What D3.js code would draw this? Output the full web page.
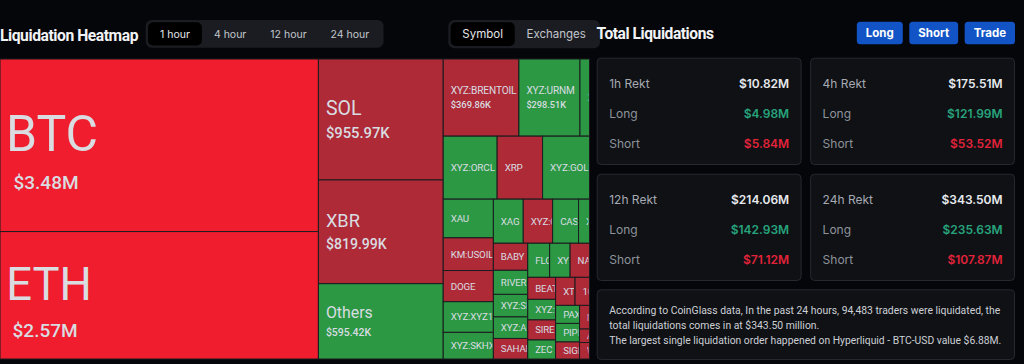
<!DOCTYPE html>
<html>
<head>
<meta charset="utf-8">
<script src="https://cdn.jsdelivr.net/npm/d3@7"></script>
<style>
html, body { margin: 0; padding: 0; background: #05060a; overflow: hidden; }
svg { display: block; }
</style>
</head>
<body>
<div id="chart"></div>
<script>
// 热力图数据 (1 hour)
const symbols = ["BTC", "ETH", "SOL", "XBR", "Others",
    "XYZ:BRENTOIL", "XYZ:URNM", "XYZ:PLTR", "XYZ:ORCL", "XRP", "XYZ:GOLD",
    "XAU", "KM:USOIL", "DOGE", "XYZ:XYZ100", "XYZ:SKHX",
    "XAG", "XYZ:CRCL", "CASH", "XYZ:TSLA",
    "BABY", "RIVER", "XYZ:SILVER", "XYZ:AMD", "SAHARA",
    "FLOKI", "XYZ:MSTR", "NAVX",
    "BEAT", "XYZ:HOOD", "SIREN", "ZEC",
    "XTZ", "1000PEPE", "PAXG", "PIPPIN", "SIGN", "MON", "ASTER", "WLFI"];
const values = [3480000, 2570000, 955970, 819990, 595420,
    369860, 298510, 46500, 215100, 181300, 187200,
    122900, 103800, 99000, 97400, 84600,
    83500, 82100, 72300, 30600,
    58900, 52400, 49100, 46900, 44700,
    47300, 44100, 41900,
    38900, 36300, 35400, 33600,
    34500, 25700, 27300, 28100, 25800, 14900, 8500, 10400];
const sides = ["short", "short", "short", "short", "long",
    "short", "long", "long", "long", "short", "long",
    "long", "short", "short", "long", "long",
    "long", "short", "long", "long",
    "short", "long", "long", "long", "short",
    "long", "long", "short",
    "short", "long", "short", "long",
    "short", "short", "long", "long", "short", "short", "short", "short"];

// 块的嵌套 (slice / dice 按深度交替)
const blocks = [
    ["BTC", "ETH"],
    ["SOL", "XBR", "Others"],
    [
        ["XYZ:BRENTOIL", "XYZ:URNM", "XYZ:PLTR"],
        ["XYZ:ORCL", "XRP", "XYZ:GOLD"],
        [
            ["XAU", "KM:USOIL", "DOGE", "XYZ:XYZ100", "XYZ:SKHX"],
            [
                ["XAG", "XYZ:CRCL", "CASH", "XYZ:TSLA"],
                [
                    ["BABY", "RIVER", "XYZ:SILVER", "XYZ:AMD", "SAHARA"],
                    [
                        ["FLOKI", "XYZ:MSTR", "NAVX"],
                        [
                            ["BEAT", "XYZ:HOOD", "SIREN", "ZEC"],
                            [
                                ["XTZ", "1000PEPE"],
                                [["PAXG", "PIPPIN", "SIGN"], ["MON", "ASTER", "WLFI"]]
                            ]
                        ]
                    ]
                ]
            ]
        ]
    ]
];

// 顶部控件
const timeTabs = ["1 hour", "4 hour", "12 hour", "24 hour"];
const viewTabs = ["Symbol", "Exchanges"];
const actions = ["Long", "Short", "Trade"];

// 总爆仓 (百万美元)
const periods = ["1h Rekt", "4h Rekt", "12h Rekt", "24h Rekt"];
const totals = [10.82, 175.51, 214.06, 343.50];
const longs = [4.98, 121.99, 142.93, 235.63];
const shorts = [5.84, 53.52, 71.12, 107.87];
const summary = [
    "According to CoinGlass data, In the past 24 hours, 94,483 traders were liquidated, the",
    "total liquidations comes in at $343.50 million.",
    "The largest single liquidation order happened on Hyperliquid - BTC-USD value $6.88M."
];

const W = 1024, H = 364;
const UI = "Inter, 'Noto Sans', sans-serif";
const RB = "Roboto, 'DejaVu Sans', sans-serif";

const svg = d3.select("#chart").append("svg")
    .attr("width", W)
    .attr("height", H);

svg.append("rect").attr("width", W).attr("height", H).attr("fill", "#05060a");

// 文字过宽时压缩
function fit(t, maxW) {
    if (t.node().getComputedTextLength() > maxW) {
        t.attr("textLength", maxW).attr("lengthAdjust", "spacingAndGlyphs");
    }
    return t;
}

// ---------- 热力图 ----------
function toNode(item) {
    if (typeof item === "string") {
        const i = symbols.indexOf(item);
        return { name: item, value: values[i], side: sides[i] };
    }
    return { children: item.map(toNode) };
}

const root = d3.hierarchy(toNode(blocks)).sum(d => d.children ? 0 : d.value);
d3.treemap().size([589.5, 300]).tile(d3.treemapSliceDice)(root);

const color = d => d.data.side === "long" ? "#2c9844" : (d.value > 2000000 ? "#ef1d2e" : "#ae2a37");
const nameSize = d3.scaleLinear()
    .domain([0, 250000, 400000, 600000, 1000000, 2500000, 3500000])
    .range([9.6, 10, 10.2, 16, 20, 45, 50]).clamp(true);
const valueSize = d3.scaleLinear()
    .domain([0, 400000, 600000, 800000, 1000000, 2500000])
    .range([8.5, 9.4, 10.5, 14, 15, 19]).clamp(true);
const fmt = v => v >= 1e6 ? "$" + (v / 1e6).toFixed(2) + "M" : "$" + (v / 1e3).toFixed(2) + "K";

const map = svg.append("g").attr("transform", "translate(0,59)");

const cells = map.selectAll(".cell")
    .data(root.leaves())
    .join("g")
    .attr("class", "cell")
    .attr("transform", d => `translate(${d.x0},${d.y0})`);

cells.append("rect")
    .attr("width", d => d.x1 - d.x0)
    .attr("height", d => d.y1 - d.y0)
    .attr("fill", color)
    .attr("stroke", "#1b1c1f")
    .attr("stroke-width", 1);

cells.append("clipPath")
    .attr("id", (d, i) => "clip" + i)
    .append("rect")
    .attr("width", d => Math.max(0, d.x1 - d.x0 - 1))
    .attr("height", d => d.y1 - d.y0);

cells.each(function(d, i) {
    const g = d3.select(this).append("g").attr("clip-path", `url(#clip${i})`);
    const w = d.x1 - d.x0, h = d.y1 - d.y0;
    const nf = nameSize(d.value), vf = valueSize(d.value);
    const showVal = h >= 70 && w >= 55;
    const capN = nf * 0.71, capV = vf * 0.71;
    const gap = showVal ? 0.35 * nf + 0.4 * vf : 0;
    const total = capN + (showVal ? gap + capV : 0);
    const top = h / 2 - total / 2 + (nf > 40 ? 7 : 0);
    const nx = 7.5 - Math.max(0, nf - 20) * 0.05;

    const t = g.append("text")
        .attr("x", nx)
        .attr("y", top + capN)
        .attr("fill", "#d9dce1")
        .attr("font-family", RB)
        .attr("font-size", nf)
        .attr("letter-spacing", nf < 12 ? -0.15 : 0)
        .text(d.data.name);

    // 去掉完全落在格子外的字符 (其余由 clipPath 裁掉)
    let s = d.data.name;
    while (s.length > 1 && nx + t.node().getSubStringLength(0, s.length - 1) >= w - 1) {
        s = s.slice(0, -1);
        t.text(s);
    }

    if (showVal) {
        g.append("text")
            .attr("x", 7.5 + Math.max(0, nf - 20) * 0.2)
            .attr("y", top + capN + gap + capV)
            .attr("fill", "#d9dce1")
            .attr("font-family", RB)
            .attr("font-size", vf)
            .attr("font-weight", 500)
            .text(fmt(d.value));
    }
});

// ---------- 标题与切换 ----------
fit(svg.append("text")
    .attr("x", 0)
    .attr("y", 40.5)
    .attr("fill", "#f2f3f5")
    .attr("font-family", RB)
    .attr("font-size", 16)
    .attr("font-weight", 700)
    .attr("letter-spacing", -0.45)
    .text("Liquidation Heatmap"), 138);

function tabGroup(labels, x0, y0, h, fontSize, pad) {
    const g = svg.append("g");
    const bg = g.append("rect").attr("x", x0).attr("y", y0).attr("height", h)
        .attr("rx", 6).attr("fill", "#1a1c21");
    const sel = g.append("rect").attr("y", y0 + 2.3).attr("height", h - 4.6)
        .attr("rx", 5).attr("fill", "#000");
    let x = x0 + 2.3;
    labels.forEach((label, i) => {
        const t = g.append("text")
            .attr("y", y0 + h / 2)
            .attr("dy", "0.35em")
            .attr("text-anchor", "middle")
            .attr("fill", i === 0 ? "#e4e6ea" : "#c3c6cc")
            .attr("font-family", UI)
            .attr("font-size", fontSize)
            .text(label);
        const tw = t.node().getComputedTextLength() + pad;
        t.attr("x", x + tw / 2);
        if (i === 0) sel.attr("x", x).attr("width", tw);
        x += tw;
    });
    bg.attr("width", x + 2.3 - x0);
}

tabGroup(timeTabs, 145.7, 20, 27.7, 10.5, 24);
tabGroup(viewTabs, 448.3, 20, 28.3, 11.5, 23.5);

fit(svg.append("text")
    .attr("x", 596.5)
    .attr("y", 39)
    .attr("fill", "#f2f3f5")
    .attr("font-family", RB)
    .attr("font-size", 16)
    .attr("font-weight", 700)
    .attr("letter-spacing", -0.45)
    .text("Total Liquidations"), 117);

// 按钮 (右对齐)
let bx = 1015;
actions.slice().reverse().forEach(label => {
    const g = svg.append("g");
    const r = g.append("rect").attr("y", 21.7).attr("height", 22.6).attr("rx", 3.5).attr("fill", "#1254c5");
    const t = g.append("text")
        .attr("y", 33)
        .attr("dy", "0.35em")
        .attr("text-anchor", "middle")
        .attr("fill", "#ffffff")
        .attr("font-family", UI)
        .attr("font-size", 11.5)
        .attr("font-weight", 700)
        .text(label);
    const bw = t.node().getComputedTextLength() + 18;
    r.attr("x", bx - bw).attr("width", bw);
    t.attr("x", bx - bw / 2);
    bx -= bw + 6.5;
});

// ---------- 卡片 ----------
const col = d3.scaleBand().domain([0, 1]).range([596.7, 1015]).paddingInner(0.04);
const row = d3.scaleBand().domain([0, 1]).range([57.7, 281]).paddingInner(0.075);

periods.forEach((p, i) => {
    const x = col(i % 2), y = row(Math.floor(i / 2));
    const cw = col.bandwidth(), ch = row.bandwidth();
    const g = svg.append("g").attr("transform", `translate(${x},${y})`);
    g.append("rect")
        .attr("x", 0.5).attr("y", 0.5)
        .attr("width", cw - 1).attr("height", ch - 1)
        .attr("rx", 4)
        .attr("fill", "#0f1115")
        .attr("stroke", "#262930");

    const lines = [
        { label: p, value: "$" + totals[i].toFixed(2) + "M", lc: "#a6aab2", vc: "#e8eaee" },
        { label: "Long", value: "$" + longs[i].toFixed(2) + "M", lc: "#8e939b", vc: "#27a37c" },
        { label: "Short", value: "$" + shorts[i].toFixed(2) + "M", lc: "#8e939b", vc: "#e2233a" }
    ];
    lines.forEach((l, k) => {
        const ty = 26 + k * 30;
        g.append("text")
            .attr("x", 12.5).attr("y", ty).attr("dy", "0.35em")
            .attr("fill", l.lc)
            .attr("font-family", UI)
            .attr("font-size", 12)
            .text(l.label);
        g.append("text")
            .attr("x", cw - 12.4).attr("y", ty).attr("dy", "0.35em")
            .attr("text-anchor", "end")
            .attr("fill", l.vc)
            .attr("font-family", UI)
            .attr("font-size", 12)
            .attr("font-weight", 600)
            .text(l.value);
    });
});

// ---------- 说明 ----------
const note = svg.append("g").attr("transform", "translate(596.7,289.3)");
note.append("rect")
    .attr("x", 0.5).attr("y", 0.5)
    .attr("width", 1015 - 596.7 - 1).attr("height", 69.7)
    .attr("rx", 4)
    .attr("fill", "#0f1115")
    .attr("stroke", "#262930");
summary.forEach((s, i) => {
    fit(note.append("text")
        .attr("x", 12.6)
        .attr("y", 20.7 + i * 15)
        .attr("dy", "0.35em")
        .attr("fill", "#cdd0d5")
        .attr("font-family", RB)
        .attr("font-size", 10.4)
        .text(s), 392);
});
</script>
</body>
</html>
